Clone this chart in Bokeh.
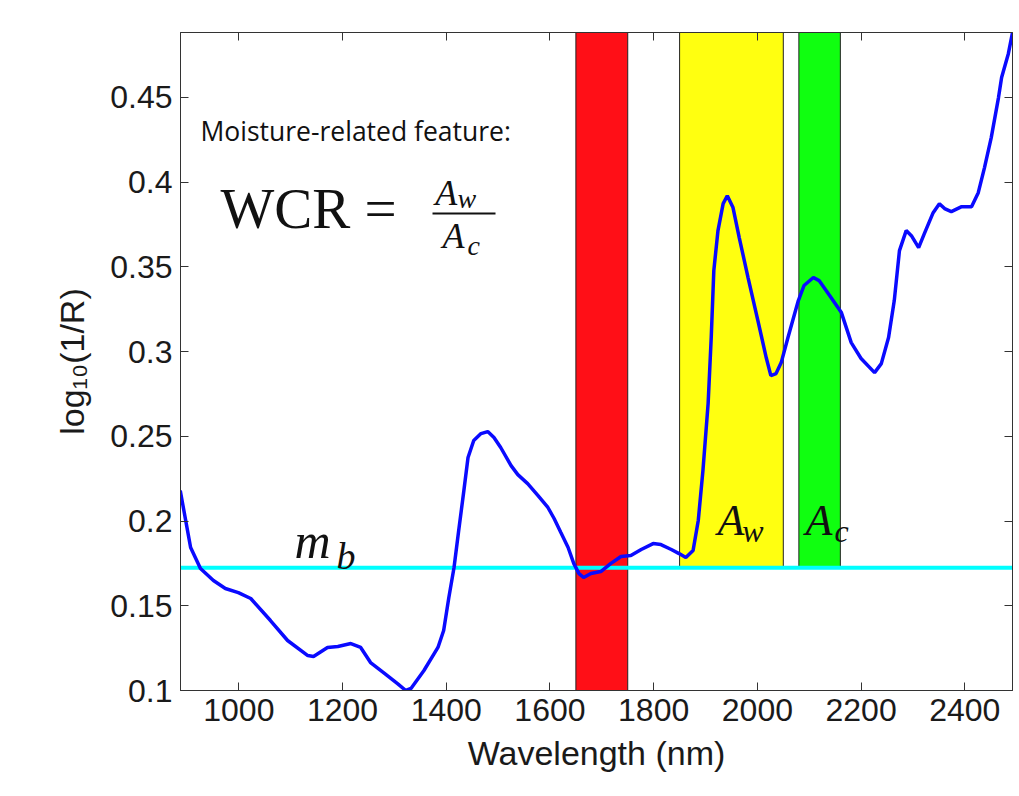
from bokeh.plotting import figure
from bokeh.models import Range1d, FixedTicker, LinearAxis, Label, CustomJSTickFormatter
from bokeh.embed import file_html
from bokeh.resources import INLINE

# ---- data ----
wavelength = [887, 907, 926, 951, 974, 999, 1023, 1061, 1094, 1133, 1144, 1171, 1191, 1216,
              1235, 1254, 1279, 1306, 1322, 1332, 1357, 1384, 1395, 1405, 1415, 1424, 1434,
              1442, 1453, 1467, 1480, 1492, 1505, 1525, 1538, 1557, 1577, 1596, 1608, 1621,
              1635, 1646, 1656, 1665, 1679, 1698, 1717, 1737, 1756, 1776, 1799, 1814, 1834,
              1849, 1862, 1876, 1886, 1895, 1905, 1911, 1916, 1924, 1934, 1942, 1953, 1965,
              1982, 2001, 2017, 2026, 2036, 2046, 2059, 2079, 2090, 2108, 2119, 2142, 2162,
              2181, 2200, 2226, 2239, 2253, 2264, 2274, 2287, 2297, 2311, 2322, 2339, 2351,
              2361, 2374, 2394, 2413, 2426, 2438, 2451, 2465, 2471, 2484, 2492]
log_inv_r = [0.218, 0.1844, 0.172, 0.1649, 0.1602, 0.1578, 0.1543, 0.1413, 0.1295, 0.1206,
             0.1201, 0.1254, 0.126, 0.1277, 0.1254, 0.1165, 0.1106, 0.1041, 0.1, 0.1012,
             0.1118, 0.1254, 0.1354, 0.1549, 0.1726, 0.1944, 0.218, 0.2375, 0.2475, 0.2516,
             0.2528, 0.2493, 0.2434, 0.2327, 0.2274, 0.2221, 0.215, 0.208, 0.2015, 0.1932,
             0.1844, 0.1749, 0.169, 0.1667, 0.169, 0.1702, 0.1749, 0.1791, 0.1796, 0.1832,
             0.1867, 0.1861, 0.1832, 0.1808, 0.1785, 0.1826, 0.2003, 0.2298, 0.2693, 0.3083,
             0.3478, 0.3714, 0.3873, 0.392, 0.385, 0.3673, 0.3437, 0.3183, 0.2965, 0.2858,
             0.287, 0.2935, 0.3083, 0.3301, 0.339, 0.3437, 0.3419, 0.3319, 0.323, 0.3053,
             0.2959, 0.2876, 0.2929, 0.3083, 0.3301, 0.3596, 0.3714, 0.3684, 0.3614, 0.3696,
             0.382, 0.3873, 0.3844, 0.3826, 0.3855, 0.3855, 0.3938, 0.4086, 0.4263, 0.4499,
             0.4617, 0.4758, 0.4882]

band_start = [1650, 1850, 2080]
band_end = [1750, 2050, 2160]
band_colors = ["#ff0f17", "#ffff10", "#10ff10"]
band_from_baseline = [False, True, True]

mb_value = 0.1724

x_ticks = [1000, 1200, 1400, 1600, 1800, 2000, 2200, 2400]
y_ticks = [0.1, 0.15, 0.2, 0.25, 0.3, 0.35, 0.4, 0.45]
y_tick_labels = ["0.1", "0.15", "0.2", "0.25", "0.3", "0.35", "0.4", "0.45"]

X0, X1 = 887.5, 2492
Y0, Y1 = 0.1, 0.4883

p = figure(width=1018, height=790, x_range=Range1d(X0, X1), y_range=Range1d(Y0, Y1),
           output_backend="svg", toolbar_location=None,
           min_border_left=180, min_border_right=6, min_border_top=32, min_border_bottom=100)
p.grid.visible = False
p.background_fill_color = "white"
p.border_fill_color = "white"
p.outline_line_color = "#333333"

AX = "#333333"
TXT = "#1a1a1a"
for ax in (p.xaxis[0], p.yaxis[0]):
    ax.axis_line_color = AX
    ax.major_tick_line_color = AX
    ax.major_tick_in = 8
    ax.major_tick_out = 0
    ax.minor_tick_line_color = None
    ax.major_label_text_font = "Liberation Sans"
    ax.major_label_text_font_size = "32px"
    ax.major_label_text_color = TXT
    ax.axis_label_text_font = "Liberation Sans"
    ax.axis_label_text_font_style = "normal"
    ax.axis_label_text_color = TXT

p.xaxis.axis_label_text_font_size = "34px"
p.yaxis.axis_label_text_font_size = "34px"
p.xaxis.ticker = FixedTicker(ticks=x_ticks)
p.yaxis.ticker = FixedTicker(ticks=y_ticks)
p.yaxis.major_label_overrides = dict(zip(y_ticks, y_tick_labels))
p.xaxis.major_label_standoff = 8
p.yaxis.major_label_standoff = 8
p.xaxis.axis_label = "Wavelength (nm)"
p.yaxis.axis_label = "log\u2081\u2080(1/R)"
p.xaxis.axis_label_standoff = 10
p.yaxis.axis_label_standoff = 16

blank = CustomJSTickFormatter(code="return ''")
top_axis = LinearAxis(ticker=FixedTicker(ticks=x_ticks), formatter=blank,
                      major_tick_in=8, major_tick_out=0, major_label_standoff=0,
                      axis_line_color=AX, major_tick_line_color=AX, minor_tick_line_color=None)
right_axis = LinearAxis(ticker=FixedTicker(ticks=y_ticks), formatter=blank,
                        major_tick_in=8, major_tick_out=0, major_label_standoff=0,
                        axis_line_color=AX, major_tick_line_color=AX, minor_tick_line_color=None)
p.add_layout(top_axis, "above")
p.add_layout(right_axis, "right")

# bands
band_bottom = [mb_value if b else Y0 for b in band_from_baseline]
band_top = [Y1 for _ in band_start]
p.quad(left=band_start, right=band_end, bottom=band_bottom, top=band_top,
       fill_color=band_colors, line_color="#222222", line_width=1)

# baseline m_b
p.line([X0, X1], [mb_value, mb_value], line_color="#00ffff", line_width=4)

# spectrum
p.line(wavelength, log_inv_r, line_color="#0a0aff", line_width=3.5)

SERIF = "Liberation Serif"

def lab(x, y, text, font, size, style="normal", align="left"):
    p.add_layout(Label(x=x, y=y, text=text, text_font=font, text_font_size=size,
                       text_font_style=style, text_color="#111111",
                       text_align=align, text_baseline="alphabetic"))

lab(926, 0.4304, "Moisture-related feature:", "Open Sans", "26.5px")
lab(964.6, 0.3844, "WCR =", SERIF, "57px")
# fraction A_w / A_c
lab(1379, 0.3935, "A", SERIF, "36px", "italic")
lab(1421.7, 0.3905, "w", SERIF, "28px", "italic")
p.line([1373.5, 1495], [0.3815, 0.3815], line_color="#111111", line_width=2)
lab(1392.8, 0.3681, "A", SERIF, "36px", "italic")
lab(1441, 0.3628, "c", SERIF, "28px", "italic")

# m_b label
lab(1107.4, 0.1882, "m", SERIF, "50px", "italic")
lab(1188.4, 0.1796, "b", SERIF, "38px", "italic")

# A_w and A_c band labels
lab(1923.2, 0.2004, "A", SERIF, "44px", "italic")
lab(1971, 0.1940, "w", SERIF, "32px", "italic")
lab(2093, 0.2004, "A", SERIF, "44px", "italic")
lab(2148.8, 0.1940, "c", SERIF, "32px", "italic")

open("out.html", "w").write(file_html(p, INLINE))
